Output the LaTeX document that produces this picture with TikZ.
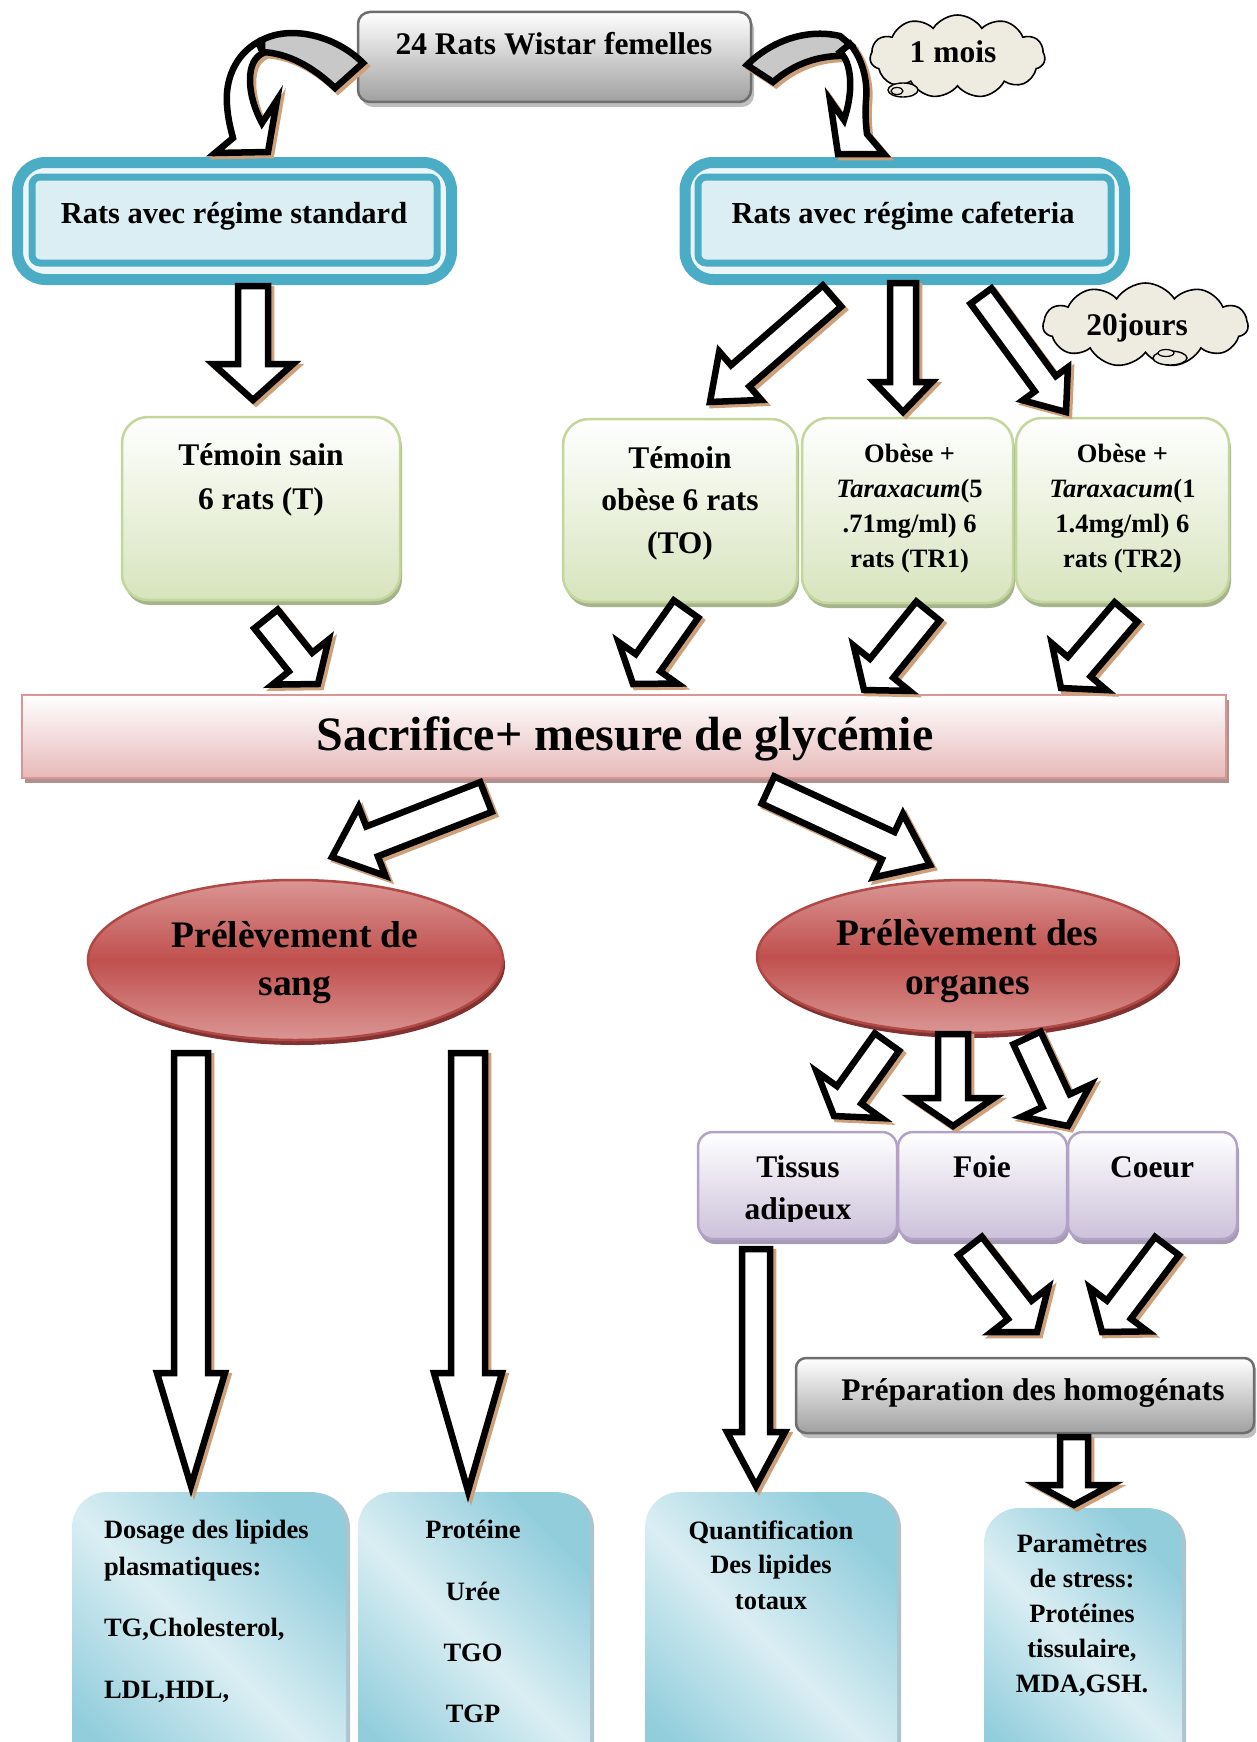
\documentclass[tikz,border=0pt]{standalone}
\usepackage{fontspec}
\setmainfont{Liberation Serif}[BoldFont={Liberation Serif Bold}, ItalicFont={Liberation Serif Italic}, BoldItalicFont={Liberation Serif Bold Italic}]
\usetikzlibrary{calc,shapes.symbols,shapes.geometric,shadows}
\definecolor{tanshadow}{RGB}{205,160,122}
\definecolor{bluebd}{RGB}{75,172,198}
\definecolor{bluefill}{RGB}{219,238,244}
\definecolor{bluegap}{RGB}{236,246,249}
\definecolor{greenbot}{RGB}{215,228,189}
\definecolor{greenbd}{RGB}{195,214,155}
\definecolor{greensh}{RGB}{166,180,140}
\definecolor{pinkbot}{RGB}{230,185,184}
\definecolor{pinkbd}{RGB}{217,150,148}
\definecolor{pinksh}{RGB}{176,145,143}
\definecolor{redmid}{RGB}{192,80,77}
\definecolor{redlight}{RGB}{218,150,148}
\definecolor{redbd}{RGB}{176,72,69}
\definecolor{redsh}{RGB}{130,50,48}
\definecolor{purbot}{RGB}{204,193,218}
\definecolor{purbd}{RGB}{179,162,199}
\definecolor{pursh}{RGB}{165,155,180}
\definecolor{graybot}{RGB}{160,160,160}
\definecolor{graybd}{RGB}{110,110,110}
\definecolor{grayband}{RGB}{200,200,200}
\definecolor{cyandark}{RGB}{146,205,220}
\definecolor{cyanlight}{RGB}{218,238,243}
\definecolor{cyansh}{RGB}{175,195,205}
\definecolor{cloudfill}{RGB}{238,236,225}

\newcommand\mysizeA{\fontsize{31.5}{38}\selectfont\bfseries}
\newcommand\mysizeR{\fontsize{30.5}{36}\selectfont\bfseries}
\newcommand\mysizeS{\fontsize{26.5}{32}\selectfont\bfseries}
\newcommand\mysizeE{\fontsize{37.5}{45}\selectfont\bfseries}
\newcommand\mysizeX{\fontsize{48}{56}\selectfont\bfseries}

% block arrow: start, tip, shaft half width, head half width, head length
\newcommand\blockarrow[5]{%
  \coordinate (bH) at ($(#2)!#5!(#1)$);
  \coordinate (bA) at ($(#1)!#3!90:(#2)$);
  \coordinate (bB) at ($(bH)!#3!90:(#2)$);
  \coordinate (bC) at ($(bH)!#4!90:(#2)$);
  \coordinate (bD) at ($(bH)!#4!-90:(#2)$);
  \coordinate (bE) at ($(bH)!#3!-90:(#2)$);
  \coordinate (bF) at ($(#1)!#3!-90:(#2)$);
  \begin{scope}[transform canvas={xshift=3pt,yshift=-3pt}]
    \filldraw[arrshadow] (bA)--(bB)--(bC)--(#2)--(bD)--(bE)--(bF)--cycle;
  \end{scope}
  \filldraw[arrbody] (bA)--(bB)--(bC)--(#2)--(bD)--(bE)--(bF)--cycle;
}

\begin{document}
\begin{tikzpicture}[x=1pt,y=-1pt,
  txt/.style={anchor=base, inner sep=0pt, outer sep=0pt},
  box/.style={rectangle, inner sep=0pt, outer sep=0pt},
  arrbody/.style={fill=white, draw=black, line width=6.5pt, line join=miter, miter limit=10},
  arrshadow/.style={fill=tanshadow, draw=tanshadow, line width=6.5pt, line join=miter, miter limit=10},
  curveback/.style={fill=grayband, draw=black, line width=6.5pt, line join=miter},
  greenbox/.style={box, rounded corners=26pt, draw=greenbd, line width=2.5pt, top color=white, bottom color=greenbot,
    drop shadow={shadow xshift=2pt, shadow yshift=-5pt, fill=greensh, opacity=1}},
  purbox/.style={box, rounded corners=15pt, draw=purbd, line width=2.5pt, top color=white, bottom color=purbot,
    drop shadow={shadow xshift=2pt, shadow yshift=-5pt, fill=pursh, opacity=1}},
  graybox/.style={box, draw=graybd, line width=2.5pt, top color=white, bottom color=graybot,
    drop shadow={shadow xshift=3pt, shadow yshift=-5pt, fill=black!25, opacity=1}},
  cyanbox/.style={box, rounded corners=35pt, draw=none, top color=cyandark, bottom color=cyandark, middle color=cyanlight, shading angle=-45,
    drop shadow={shadow xshift=4pt, shadow yshift=-1pt, fill=cyansh, opacity=1}},
  redell/.style={ellipse, inner sep=0pt, draw=redbd, line width=2.5pt, top color=redlight, bottom color=redlight, middle color=redmid,
    drop shadow={shadow xshift=2pt, shadow yshift=-5pt, fill=redsh, opacity=1}},
  thought/.style={cloud, cloud puffs=11, cloud puff arc=115, draw=black, line width=1.6pt, fill=cloudfill, inner sep=0pt},
  bubble/.style={ellipse, inner sep=0pt, draw=black, line width=1.4pt, fill=cloudfill}
]
\useasboundingbox (0,0) rectangle (1256,1742);
\fill[white] (0,0) rectangle (1256,1742);
\clip (0,0) rectangle (1256,1742);

% ---------- boxes ----------
\node[graybox, rounded corners=12pt, minimum width=393pt, minimum height=90pt] (top) at (554.5,57) {};

\node[box, rounded corners=28pt, minimum width=434pt, minimum height=117pt, draw=bluebd, line width=11pt, fill=bluegap] (stdo) at (234.5,221) {};
\node[box, rounded corners=8pt, minimum width=405pt, minimum height=86pt, draw=bluebd, line width=7pt, fill=bluefill] (std) at (234.5,220) {};
\node[box, rounded corners=28pt, minimum width=439.5pt, minimum height=117pt, draw=bluebd, line width=11pt, fill=bluegap] (cafo) at (904.75,221) {};
\node[box, rounded corners=8pt, minimum width=413pt, minimum height=86pt, draw=bluebd, line width=7pt, fill=bluefill] (caf) at (904.5,220) {};

\node[thought, minimum width=175pt, minimum height=83pt] (cloud1) at (957.5,56.5) {};
\node[bubble, minimum width=30pt, minimum height=14pt] (bub1) at (903,90) {};
\node[bubble, minimum width=12pt, minimum height=7pt, line width=1.2pt] (bub1b) at (897,91) {};
\node[thought, minimum width=205pt, minimum height=84pt] (cloud2) at (1145.5,325) {};
\node[bubble, minimum width=34pt, minimum height=14pt] (bub2) at (1170,358) {};
\node[bubble, minimum width=16pt, minimum height=7pt, line width=1.2pt] (bub2b) at (1166,353) {};

\node[greenbox, minimum width=278pt, minimum height=183pt] (T) at (261,508.5) {};
\node[greenbox, minimum width=234pt, minimum height=183pt] (TO) at (680,510.5) {};
\node[greenbox, minimum width=211pt, minimum height=185pt] (TR1) at (907.5,510.5) {};
\node[greenbox, minimum width=213pt, minimum height=184pt] (TR2) at (1122.5,510) {};

\node[box, minimum width=1204pt, minimum height=83pt, draw=pinkbd, line width=2.5pt, top color=white, bottom color=pinkbot,
  drop shadow={shadow xshift=3pt, shadow yshift=-5pt, fill=pinksh, opacity=1}] (sac) at (624,736.5) {};

\node[redell, minimum width=415pt, minimum height=160pt] (sang) at (295.5,960) {};
\node[redell, minimum width=421pt, minimum height=153pt] (org) at (967.5,956.5) {};

\node[purbox, minimum width=199pt, minimum height=107pt] (tis) at (797.5,1185.5) {};
\node[purbox, minimum width=169pt, minimum height=107pt] (foie) at (982.5,1185.5) {};
\node[purbox, minimum width=169pt, minimum height=107pt] (coeur) at (1152.5,1185.5) {};

\node[graybox, rounded corners=10pt, minimum width=458pt, minimum height=75pt] (prep) at (1025,1395.5) {};

\node[cyanbox, minimum width=274pt, minimum height=308pt] (dos) at (209,1646) {};
\node[cyanbox, minimum width=232pt, minimum height=308pt] (prot) at (474,1646) {};
\node[cyanbox, minimum width=252pt, minimum height=308pt] (quant) at (771,1646) {};
\node[cyanbox, minimum width=198pt, minimum height=292pt] (param) at (1083,1654) {};

% ---------- curved arrows ----------
\begin{scope}[transform canvas={xshift=3pt,yshift=-3pt}]
  \filldraw[arrshadow] (363,63) .. controls (335,35) and (290,25) .. (262,40) -- (262,52) .. controls (287,53) and (312,66) .. (335,88) -- cycle;
  \filldraw[arrshadow] (258,42) .. controls (235,55) and (225,80) .. (227,105) .. controls (228,120) and (231,130) .. (233,138) -- (215,153) -- (268,152) -- (277,100) -- (262,123) .. controls (255,110) and (250,95) .. (250,80) .. controls (250,65) and (255,57) .. (263,53) -- cycle;
  \filldraw[arrshadow] (747,65) .. controls (770,42) and (805,28) .. (840,36) -- (852,46) -- (846,56) .. controls (820,55) and (795,63) .. (773,82) -- cycle;
  \filldraw[arrshadow] (850,44) .. controls (862,58) and (868,80) .. (866,100) .. controls (865,115) and (866,125) .. (867,134) -- (884,154) -- (838,154) -- (830,100) -- (844,120) .. controls (849,105) and (851,90) .. (850,78) .. controls (849,66) and (846,58) .. (840,52) -- cycle;
\end{scope}
\filldraw[curveback] (363,63) .. controls (335,35) and (290,25) .. (262,40) -- (262,52) .. controls (287,53) and (312,66) .. (335,88) -- cycle;
\filldraw[arrbody] (258,42) .. controls (235,55) and (225,80) .. (227,105) .. controls (228,120) and (231,130) .. (233,138) -- (215,153) -- (268,152) -- (277,100) -- (262,123) .. controls (255,110) and (250,95) .. (250,80) .. controls (250,65) and (255,57) .. (263,53) -- cycle;
\filldraw[curveback] (747,65) .. controls (770,42) and (805,28) .. (840,36) -- (852,46) -- (846,56) .. controls (820,55) and (795,63) .. (773,82) -- cycle;
\filldraw[arrbody] (850,44) .. controls (862,58) and (868,80) .. (866,100) .. controls (865,115) and (866,125) .. (867,134) -- (884,154) -- (838,154) -- (830,100) -- (844,120) .. controls (849,105) and (851,90) .. (850,78) .. controls (849,66) and (846,58) .. (840,52) -- cycle;

% ---------- block arrows ----------
\coordinate (a1s) at (253,286);   \coordinate (a1e) at (253,400);
\coordinate (a2s) at (832,296);   \coordinate (a2e) at (710,402);
\coordinate (a3s) at (903,283);   \coordinate (a3e) at (903,412);
\coordinate (a4s) at (981,296);   \coordinate (a4e) at (1066,412);
\coordinate (a5s) at (266,619);   \coordinate (a5e) at (318,684);
\coordinate (a6s) at (686,609);   \coordinate (a6e) at (633,684);
\coordinate (a7s) at (928,611);   \coordinate (a7e) at (864,690);
\coordinate (a8s) at (1126,612);  \coordinate (a8e) at (1061,688);
\coordinate (a9s) at (486,797);   \coordinate (a9e) at (332,857);
\coordinate (a10s) at (768,790);  \coordinate (a10e) at (930,865);
\coordinate (a11s) at (191,1053); \coordinate (a11e) at (191,1486);
\coordinate (a12s) at (468,1053); \coordinate (a12e) at (468,1491);
\coordinate (a13s) at (887,1042); \coordinate (a13e) at (834,1116);
\coordinate (a14s) at (953,1034); \coordinate (a14e) at (953,1126);
\coordinate (a15s) at (1027,1038);\coordinate (a15e) at (1068,1126);
\coordinate (a16s) at (970,1246); \coordinate (a16e) at (1037,1332);
\coordinate (a17s) at (1167,1246);\coordinate (a17e) at (1102,1332);
\coordinate (a18s) at (756,1249); \coordinate (a18e) at (756,1486);
\coordinate (a19s) at (1074,1437);\coordinate (a19e) at (1074,1505);

\blockarrow{a1s}{a1e}{15pt}{40pt}{36pt}
\blockarrow{a2s}{a2e}{14pt}{32pt}{40pt}
\blockarrow{a3s}{a3e}{13pt}{29pt}{30pt}
\blockarrow{a4s}{a4e}{13pt}{28pt}{35pt}
\blockarrow{a5s}{a5e}{15pt}{36pt}{28pt}
\blockarrow{a6s}{a6e}{15pt}{36pt}{26pt}
\blockarrow{a7s}{a7e}{15pt}{36pt}{28pt}
\blockarrow{a8s}{a8e}{15pt}{36pt}{28pt}
\blockarrow{a9s}{a9e}{16pt}{37pt}{43pt}
\blockarrow{a10s}{a10e}{15pt}{35pt}{46pt}
\blockarrow{a11s}{a11e}{17pt}{34pt}{113pt}
\blockarrow{a12s}{a12e}{17pt}{34pt}{118pt}
\blockarrow{a13s}{a13e}{15pt}{40pt}{26pt}
\blockarrow{a14s}{a14e}{15pt}{41pt}{28pt}
\blockarrow{a15s}{a15e}{15pt}{38pt}{28pt}
\blockarrow{a16s}{a16e}{15pt}{36pt}{28pt}
\blockarrow{a17s}{a17e}{15pt}{36pt}{28pt}
\blockarrow{a18s}{a18e}{14pt}{29pt}{54pt}
\blockarrow{a19s}{a19e}{14pt}{37pt}{20pt}

% ---------- texts ----------
\node[txt, font=\mysizeA] (ttop) at (554,55) {24 Rats Wistar femelles};
\node[txt, font=\mysizeA] (tmois) at (953,63) {1 mois};
\node[txt, font=\mysizeA] (tjours) at (1137,335) {20jours};
\node[txt, font=\mysizeR] (tstd) at (234,223) {Rats avec régime standard};
\node[txt, font=\mysizeR] (tcaf) at (903,223) {Rats avec régime cafeteria};

\node[txt, font=\mysizeA] (tT1) at (261,465) {Témoin sain};
\node[txt, font=\mysizeA] (tT2) at (261,509) {6 rats (T)};
\node[txt, font=\mysizeA] (tTO1) at (680,468) {Témoin};
\node[txt, font=\mysizeA] (tTO2) at (680,510) {obèse 6 rats};
\node[txt, font=\mysizeA] (tTO3) at (680,553) {(TO)};
\node[txt, font=\mysizeS] (tR11) at (909.6,462) {Obèse +};
\node[txt, font=\mysizeS] (tR12) at (909.6,497) {\textit{Taraxacum}(5};
\node[txt, font=\mysizeS] (tR13) at (909.6,532) {.71mg/ml) 6};
\node[txt, font=\mysizeS] (tR14) at (909.6,567) {rats (TR1)};
\node[txt, font=\mysizeS] (tR21) at (1122.4,462) {Obèse +};
\node[txt, font=\mysizeS] (tR22) at (1122.4,497) {\textit{Taraxacum}(1};
\node[txt, font=\mysizeS] (tR23) at (1122.4,532) {1.4mg/ml) 6};
\node[txt, font=\mysizeS] (tR24) at (1122.4,567) {rats (TR2)};

\node[txt, font=\mysizeX] (tsac) at (625,750) {Sacrifice+ mesure de glycémie};

\node[txt, font=\mysizeE] (tsang1) at (295,947) {Prélèvement de};
\node[txt, font=\mysizeE] (tsang2) at (295,995) {sang};
\node[txt, font=\mysizeE] (torg1) at (967.5,945) {Prélèvement des};
\node[txt, font=\mysizeE] (torg2) at (967.5,994) {organes};

\node[txt, font=\mysizeA] (ttis1) at (798,1177) {Tissus};
\begin{scope}
  \clip (698,1132) rectangle (897,1221);
  \node[txt, font=\mysizeA] (ttis2) at (798,1219) {adipeux};
\end{scope}
\node[txt, font=\mysizeA] (tfoie) at (982,1177) {Foie};
\node[txt, font=\mysizeA] (tcoeur) at (1152,1177) {Coeur};
\node[txt, font=\mysizeA] (tprep) at (1033,1400) {Préparation des homogénats};

\node[txt, anchor=base west, font=\mysizeS] (td1) at (104,1538) {Dosage des lipides};
\node[txt, anchor=base west, font=\mysizeS] (td2) at (104,1575) {plasmatiques:};
\node[txt, anchor=base west, font=\mysizeS] (td3) at (104,1636.5) {TG,Cholesterol,};
\node[txt, anchor=base west, font=\mysizeS] (td4) at (104,1698) {LDL,HDL,};

\node[txt, font=\mysizeS] (tp1) at (473,1538) {Protéine};
\node[txt, font=\mysizeS] (tp2) at (473,1600) {Urée};
\node[txt, font=\mysizeS] (tp3) at (473,1661) {TGO};
\node[txt, font=\mysizeS] (tp4) at (473,1722) {TGP};

\node[txt, font=\mysizeS] (tq1) at (771,1539) {Quantification};
\node[txt, font=\mysizeS] (tq2) at (771,1573.5) {Des lipides};
\node[txt, font=\mysizeS] (tq3) at (771,1609) {totaux};

\node[txt, font=\mysizeS] (tm1) at (1082,1552) {Paramètres};
\node[txt, font=\mysizeS] (tm2) at (1082,1587) {de stress:};
\node[txt, font=\mysizeS] (tm3) at (1082,1622.5) {Protéines};
\node[txt, font=\mysizeS] (tm4) at (1082,1657.5) {tissulaire,};
\node[txt, font=\mysizeS] (tm5) at (1082,1692.5) {MDA,GSH.};
\end{tikzpicture}
\end{document}
